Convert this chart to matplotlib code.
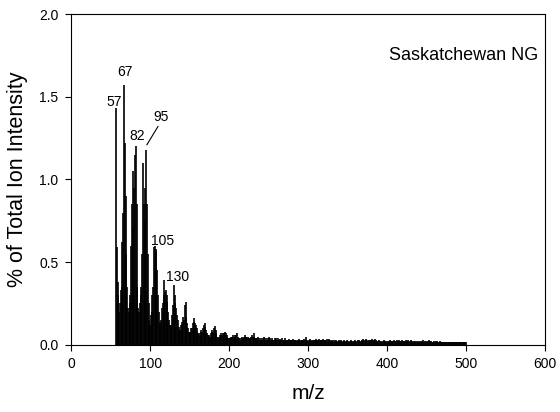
import numpy as np
import matplotlib
matplotlib.use("Agg")
import matplotlib.pyplot as plt

plt.rcParams['font.family'] = ['Liberation Sans', 'DejaVu Sans']

# m/z values start at 57 and step by 1 up to 500
mz_start = 57
intensity = [
    1.43, 0.59, 0.38, 0.30,
    0.20, 0.25, 0.33, 0.35, 0.62, 0.80, 1.57, 1.22, 0.90, 0.55,
    0.35, 0.22, 0.20, 0.25, 0.30, 0.60, 0.85, 0.70, 1.05, 0.95,
    1.15, 1.20, 0.85, 0.35, 0.22, 0.20, 0.25, 0.30, 0.35, 0.55,
    1.10, 0.85, 0.95, 0.75, 1.18, 0.85, 0.55, 0.25, 0.15, 0.12,
    0.18, 0.20, 0.30, 0.35, 0.59, 0.60, 0.57, 0.58, 0.45, 0.30,
    0.20, 0.14, 0.12, 0.15, 0.22, 0.25, 0.39, 0.30, 0.32, 0.33,
    0.30, 0.26, 0.20, 0.15, 0.12, 0.10, 0.12, 0.18, 0.24, 0.36,
    0.30, 0.25, 0.22, 0.18, 0.15, 0.11, 0.09, 0.09, 0.12, 0.12,
    0.14, 0.17, 0.15, 0.24, 0.26, 0.17, 0.13, 0.10, 0.08, 0.08,
    0.08, 0.10, 0.10, 0.13, 0.16, 0.14, 0.13, 0.12, 0.10, 0.08,
    0.07, 0.07, 0.06, 0.08, 0.09, 0.08, 0.10, 0.12, 0.11, 0.13,
    0.09, 0.07, 0.06, 0.05, 0.06, 0.05, 0.07, 0.08, 0.09, 0.08,
    0.10, 0.115, 0.09, 0.07, 0.05, 0.05, 0.04, 0.05, 0.06, 0.07,
    0.06, 0.07, 0.06, 0.07, 0.08, 0.07, 0.06, 0.05, 0.04, 0.04,
    0.04, 0.05, 0.04, 0.05, 0.06, 0.05, 0.06, 0.05, 0.06, 0.07,
    0.05, 0.04, 0.03, 0.04, 0.03, 0.04, 0.05, 0.04, 0.05, 0.06,
    0.05, 0.05, 0.04, 0.05, 0.04, 0.03, 0.04, 0.05, 0.06, 0.05,
    0.07, 0.05, 0.04, 0.04, 0.03, 0.04, 0.05, 0.04, 0.03, 0.03,
    0.04, 0.03, 0.04, 0.05, 0.04, 0.03, 0.03, 0.04, 0.03, 0.04,
    0.05, 0.04, 0.03, 0.03, 0.04, 0.03, 0.03, 0.04, 0.03, 0.04,
    0.03, 0.04, 0.03, 0.03, 0.035, 0.03, 0.04, 0.03, 0.025, 0.03,
    0.04, 0.03, 0.03, 0.025, 0.03, 0.035, 0.03, 0.03, 0.025, 0.03,
    0.035, 0.03, 0.025, 0.03, 0.03, 0.025, 0.03, 0.035, 0.03, 0.025,
    0.03, 0.03, 0.025, 0.03, 0.035, 0.03, 0.03, 0.045, 0.03, 0.025,
    0.03, 0.03, 0.035, 0.03, 0.025, 0.03, 0.03, 0.025, 0.03, 0.035,
    0.03, 0.025, 0.03, 0.035, 0.03, 0.025, 0.03, 0.03, 0.035, 0.03,
    0.025, 0.03, 0.03, 0.035, 0.025, 0.03, 0.035, 0.03, 0.025, 0.03,
    0.025, 0.02, 0.03, 0.025, 0.03, 0.025, 0.02, 0.025, 0.03, 0.025,
    0.025, 0.03, 0.025, 0.02, 0.025, 0.03, 0.025, 0.02, 0.025, 0.03,
    0.025, 0.02, 0.025, 0.03, 0.025, 0.02, 0.025, 0.025, 0.03, 0.025,
    0.02, 0.025, 0.03, 0.025, 0.03, 0.025, 0.02, 0.025, 0.03, 0.035,
    0.03, 0.025, 0.03, 0.035, 0.03, 0.025, 0.03, 0.03, 0.025, 0.03,
    0.035, 0.03, 0.025, 0.03, 0.035, 0.03, 0.025, 0.02, 0.025, 0.03,
    0.025, 0.02, 0.025, 0.02, 0.025, 0.03, 0.025, 0.02, 0.025, 0.02,
    0.025, 0.02, 0.025, 0.03, 0.025, 0.02, 0.025, 0.025, 0.03, 0.025,
    0.02, 0.025, 0.03, 0.025, 0.03, 0.025, 0.02, 0.025, 0.03, 0.025,
    0.02, 0.025, 0.025, 0.03, 0.025, 0.02, 0.03, 0.025, 0.02, 0.025,
    0.03, 0.025, 0.02, 0.025, 0.02, 0.025, 0.02, 0.025, 0.02, 0.02,
    0.025, 0.02, 0.025, 0.02, 0.025, 0.03, 0.02, 0.025, 0.02, 0.025,
    0.02, 0.025, 0.03, 0.025, 0.02, 0.025, 0.02, 0.02, 0.025, 0.02,
    0.02, 0.025, 0.02, 0.025, 0.02, 0.02, 0.025, 0.02, 0.02, 0.015,
    0.02, 0.02, 0.015, 0.02, 0.02, 0.015, 0.02, 0.015, 0.02, 0.015,
    0.015, 0.02, 0.015, 0.02, 0.015, 0.015, 0.02, 0.015, 0.015, 0.02,
    0.015, 0.015, 0.02, 0.015, 0.015, 0.02, 0.015, 0.015, 0.02, 0.015,
]
mz = np.arange(mz_start, mz_start + len(intensity))

# labelled peaks: text, label position
peak_labels = ["57", "67", "82", "95", "105", "130"]
label_x = [54, 68, 84, 114, 116, 135]
label_y = [1.47, 1.65, 1.26, 1.38, 0.63, 0.41]

fig = plt.figure(figsize=(5.6, 4.12), dpi=100)
ax = fig.add_axes([0.127, 0.163, 0.846, 0.803])

ax.vlines(mz, 0, intensity, colors='black', linewidth=1.2)

for t, x, y in zip(peak_labels, label_x, label_y):
    ax.text(x, y, t, fontsize=10, ha='center', va='center')
# leader line for the 95 label
ax.plot([110, 96], [1.32, 1.21], color='black', linewidth=0.8)

ax.text(0.985, 0.875, "Saskatchewan NG", transform=ax.transAxes,
        fontsize=13, ha='right', va='center')

ax.set_xlim(0, 600)
ax.set_ylim(0, 2.0)
ax.set_xticks([0, 100, 200, 300, 400, 500, 600])
ax.set_yticks([0.0, 0.5, 1.0, 1.5, 2.0])
ax.set_yticklabels(["0.0", "0.5", "1.0", "1.5", "2.0"])
ax.tick_params(direction='out', length=4, labelsize=10, width=0.8, pad=5)
ax.set_xlabel("m/z", fontsize=15, labelpad=9)
ax.set_ylabel("% of Total Ion Intensity", fontsize=15.5, labelpad=8)
for s in ax.spines.values():
    s.set_linewidth(0.8)

fig.savefig("out.png", dpi=100)
